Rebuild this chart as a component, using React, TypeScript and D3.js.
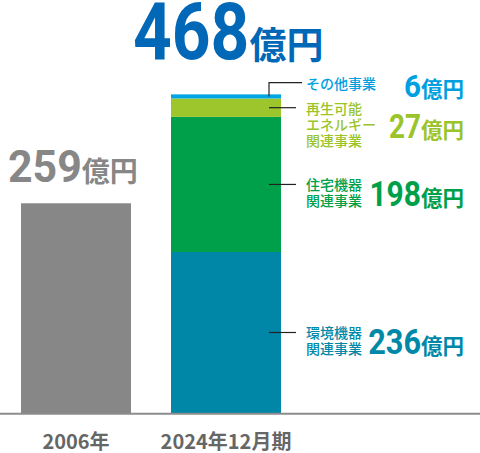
import React, { useEffect } from 'react';
import * as d3 from 'd3';

// Data
const categories = ['2006年', '2024年12月期'];
const totals = [259, 468];
const segmentKeys = ['env', 'housing', 'renewable', 'other'];
const segmentValues = [236, 198, 27, 6];
const segmentLabels = [
  ['環境機器', '関連事業'],
  ['住宅機器', '関連事業'],
  ['再生可能', 'エネルギー', '関連事業'],
  ['その他事業']
];
const unit = '億円';

// Styles
const segmentColors = ['#0086a6', '#00a04a', '#9dc62d', '#00a6e3'];
const textColors = ['#0088a8', '#00a04a', '#9bc42a', '#00a0e0'];
const valueSizes = [35, 35, 33, 31];
const valueDigitW = [17.6, 17.2, 16, 17]; // condensed digit advance, px
const numFont = 'Roboto, sans-serif';
const jpFont = '"Noto Sans CJK JP", sans-serif';

const width = 480;
const height = 453;
const baseline = 413;

// number + 億円, digits squeezed to a condensed width
function Amount(props: {
  value: number; x: number; y: number; anchor: 'start' | 'end';
  size: number; digitW: number; unitSize: number; color: string;
}) {
  const { value, x, y, anchor, size, digitW, unitSize, color } = props;
  const digits = String(value);
  const dw = digits.length * digitW;
  const uw = unitSize * 2;
  const left = anchor === 'start' ? x : x - dw - uw;
  return (
    <g fill={color} fontWeight={700}>
      <text x={left} y={y} fontFamily={numFont} fontSize={size} textLength={dw} lengthAdjust="spacingAndGlyphs">
        {digits}
      </text>
      <text x={left + dw} y={y} fontFamily={jpFont} fontSize={unitSize}>{unit}</text>
    </g>
  );
}

export default function App() {
  useEffect(() => {
    document.body.style.margin = '0';
  }, []);

  const x = d3.scaleBand<string>()
    .domain(categories)
    .range([21, 281])
    .paddingInner(40 / 150)
    .paddingOuter(0);

  // stacked 2024 bar
  const y = d3.scaleLinear().domain([0, totals[1]]).range([baseline, 93.7]);
  // the 2006 bar is drawn on its own (taller) scale in the original
  const yPast = d3.scaleLinear().domain([0, totals[0]]).range([baseline, 203.3]);

  const row: Record<string, number> = {};
  segmentKeys.forEach((k, i) => (row[k] = segmentValues[i]));
  const series = d3.stack<Record<string, number>>().keys(segmentKeys)([row]);

  const bw = x.bandwidth();
  const x0 = x(categories[0])!;
  const x1 = x(categories[1])!;
  const barRight = x1 + bw;
  const lineH = 16;

  return (
    <svg width={width} height={height} style={{ display: 'block' }}>
      {/* 2006 bar */}
      <rect x={x0} y={yPast(totals[0])} width={bw} height={baseline - yPast(totals[0])} fill="#878787" />
      <Amount value={totals[0]} x={x0 - 13} y={yPast(totals[0]) - 21} anchor="start"
        size={44} digitW={24.6} unitSize={28} color="#878787" />

      {/* 2024 stacked bar */}
      {series.map((s, i) => (
        <rect
          key={s.key}
          x={x1}
          y={y(s[0][1])}
          width={bw}
          height={y(s[0][0]) - y(s[0][1])}
          fill={segmentColors[i]}
        />
      ))}
      <Amount value={totals[1]} x={x1 - 38} y={y(totals[1]) - 35} anchor="start"
        size={79} digitW={38.8} unitSize={37} color="#0068b7" />

      {/* leaders + labels */}
      {series.map((s, i) => {
        const mid = (y(s[0][0]) + y(s[0][1])) / 2;
        const isTop = i === series.length - 1;
        const labelY = isTop ? y(totals[1]) - 11 : mid;
        const lines = segmentLabels[i];
        const path = isTop
          ? `M${barRight - 12},${mid}V${labelY}H${barRight + 21}`
          : `M${barRight - 12},${mid}H${barRight + 15}`;
        const valueY = labelY + ((lines.length - 1) * lineH) / 2 + 14;
        return (
          <g key={s.key}>
            <path d={path} fill="none" stroke="#222" strokeWidth={1.2} />
            <text fontFamily={jpFont} fontSize={14} fontWeight={500} fill={textColors[i]}>
              {lines.map((l, j) => (
                <tspan key={j} x={barRight + 25} y={labelY + j * lineH} dominantBaseline="central">{l}</tspan>
              ))}
            </text>
            <Amount value={segmentValues[i]} x={464} y={valueY} anchor="end"
              size={valueSizes[i]} digitW={valueDigitW[i]} unitSize={21.5} color={textColors[i]} />
          </g>
        );
      })}

      {/* axis */}
      <line x1={0} x2={width} y1={baseline + 0.7} y2={baseline + 0.7} stroke="#8c8c8c" strokeWidth={2} />
      {categories.map(c => (
        <text
          key={c}
          x={x(c)! + bw / 2}
          y={449}
          textAnchor="middle"
          fontFamily={jpFont}
          fontSize={20}
          fontWeight={700}
          fill="#666"
        >
          {c}
        </text>
      ))}
    </svg>
  );
}
